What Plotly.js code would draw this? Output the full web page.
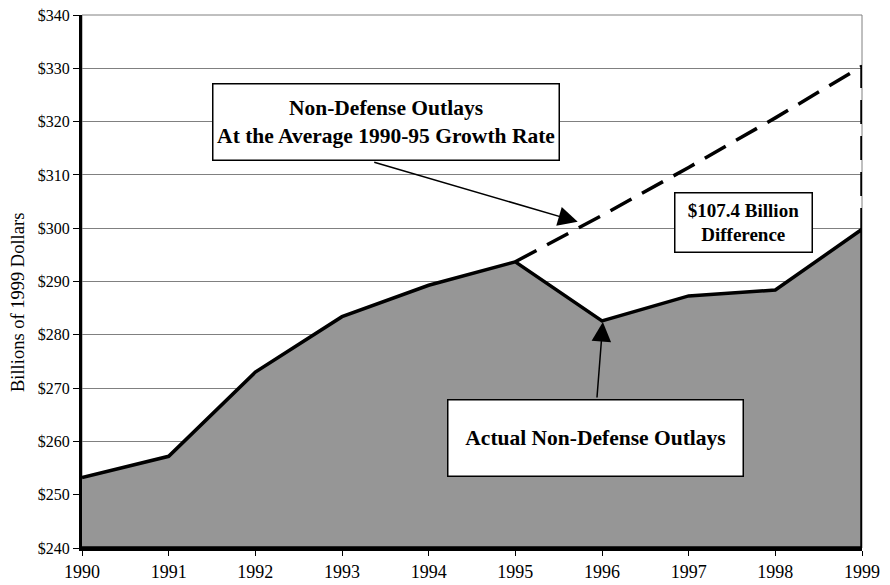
<!DOCTYPE html>
<html>
<head>
<meta charset="utf-8">
<script src="https://cdn.plot.ly/plotly-3.0.1.min.js"></script>
<style>html,body{margin:0;padding:0;background:#fff;}#chart{width:890px;height:585px;}</style>
</head>
<body>
<div id="chart"></div>
<script>
// Data (billions of 1999 dollars)
const years = [1990, 1991, 1992, 1993, 1994, 1995, 1996, 1997, 1998, 1999];
const actualOutlays = [253.2, 257.2, 273.0, 283.4, 289.3, 293.7, 282.6, 287.3, 288.4, 299.8];
const projYears = [1995, 1996, 1997, 1998, 1999];
const projectedOutlays = [293.7, 302.4, 311.4, 320.7, 330.4];
const yTicks = [240, 250, 260, 270, 280, 290, 300, 310, 320, 330, 340];
const yTickLabels = yTicks.map(v => '$' + v);
const yMin = 240, yMax = 340;

const FONT = 'Liberation Serif, Times New Roman, serif';

const last = years.length - 1;
const areaTrace = {
  x: years.concat([years[last], years[0]]),
  y: actualOutlays.concat([yMin, yMin]),
  type: 'scatter', mode: 'lines', fill: 'toself',
  fillcolor: '#969696',
  line: {color: '#000', width: 3.5},
  hoverinfo: 'skip'
};
const dashTrace = {
  x: projYears.concat([projYears[projYears.length - 1]]),
  y: projectedOutlays.concat([actualOutlays[last]]),
  type: 'scatter', mode: 'lines',
  line: {color: '#000', width: 3.5, dash: '24px,12px'},
  hoverinfo: 'skip'
};

const boxFont = {family: FONT, size: 21.5, color: '#000'};
const box = {showarrow: false, font: boxFont, bgcolor: '#fff', bordercolor: '#000',
  borderwidth: 1.5, borderpad: 0, align: 'center', xanchor: 'center', yanchor: 'middle',
  xref: 'paper', yref: 'paper'};
const layout = {
  width: 890, height: 585,
  margin: {l: 82, r: 28, t: 15, b: 37},
  paper_bgcolor: '#fff', plot_bgcolor: '#fff',
  showlegend: false,
  font: {family: FONT, color: '#000'},
  xaxis: {
    range: [years[0], years[last]], tickvals: years, ticktext: years.map(String),
    showgrid: false, zeroline: false,
    showline: true, linecolor: '#000', linewidth: 3,
    ticks: 'outside', ticklen: 5, tickcolor: '#000', tickwidth: 1,
    tickfont: {family: FONT, size: 18, color: '#000'}
  },
  yaxis: {
    range: [yMin, yMax], tickvals: yTicks, ticktext: yTickLabels,
    showgrid: true, gridcolor: '#808080', gridwidth: 1, zeroline: false,
    showline: true, linecolor: '#000', linewidth: 3,
    ticks: 'outside', ticklen: 6, tickcolor: '#000', tickwidth: 1,
    tickfont: {family: FONT, size: 16, color: '#000'}
  },
  shapes: [
    {type: 'rect', xref: 'paper', yref: 'paper', x0: 0, x1: 1, y0: 0, y1: 1,
     line: {color: '#808080', width: 1}, layer: 'below'}
  ],
  annotations: [
    {xref: 'x', yref: 'y', x: 1995.72, y: 301.2, text: '', showarrow: true,
     axref: 'pixel', ayref: 'pixel', ax: -205, ay: -60,
     arrowhead: 2, arrowsize: 2.6, arrowwidth: 1.5, arrowcolor: '#000', standoff: 0},
    {xref: 'x', yref: 'y', x: 1996.01, y: 282.4, text: '', showarrow: true,
     ax: -6, ay: 77,
     arrowhead: 2, arrowsize: 2.6, arrowwidth: 1.5, arrowcolor: '#000', standoff: 0},
    Object.assign({}, box, {x: 0.3897, y: 0.7992,
     text: '<b>Non-Defense Outlays<br>At the Average 1990-95 Growth Rate</b>',
     width: 345, height: 75}),
    Object.assign({}, box, {x: 0.8487, y: 0.6098,
     text: '<b>$107.4 Billion<br>Difference</b>', width: 136, height: 58,
     font: {family: FONT, size: 19, color: '#000'}}),
    Object.assign({}, box, {x: 0.6583, y: 0.2064,
     text: '<b>Actual Non-Defense Outlays</b>', width: 294, height: 75}),
    {xref: 'paper', yref: 'paper', x: -0.082, y: 0.4597, showarrow: false,
     xanchor: 'center', yanchor: 'middle', textangle: -90,
     text: 'Billions of 1999 Dollars', font: {family: FONT, size: 18.5, color: '#000'}}
  ]
};

Plotly.newPlot('chart', [areaTrace, dashTrace], layout, {displayModeBar: false, staticPlot: true});
</script>
</body>
</html>
